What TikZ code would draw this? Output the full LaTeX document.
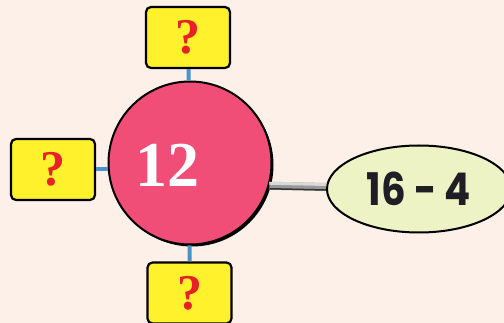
\documentclass[tikz,border=0pt]{standalone}
\usepackage{fontspec}
\usepackage{tikz}
\usetikzlibrary{shapes.geometric,shadows,calc}
\newfontfamily\serfont{Liberation Serif}
\newfontfamily\gothfont{Poppins}[FakeStretch=0.86]

\definecolor{paper}{RGB}{253,240,233}
\definecolor{rose}{RGB}{240,78,119}
\definecolor{lemon}{RGB}{255,241,43}
\definecolor{qred}{RGB}{232,32,40}
\definecolor{link}{RGB}{74,146,204}
\definecolor{cream}{RGB}{238,243,198}
\definecolor{ink}{RGB}{30,30,36}

\tikzset{
  qbox/.style={rectangle,rounded corners=5pt,draw=black,line width=2.2pt,fill=lemon,
    minimum width=84pt,minimum height=61pt,inner sep=0pt,
    font=\serfont\bfseries\fontsize{50}{50}\selectfont,text=qred},
  blue link/.style={line width=4pt,color=link}
}

\begin{document}
\begin{tikzpicture}[x=1pt,y=-1pt]

	% page

	\fill[paper] (0,0) rectangle (504,323);
	\useasboundingbox (0,0) rectangle (504,323);

	% centre and answer

	\node[circle,draw=black,line width=2pt,fill=rose,minimum size=163pt,inner sep=0pt,
	  drop shadow={shadow xshift=2pt,shadow yshift=-2pt,opacity=1,fill=black}] (c) at (190,163) {};
	\node[font=\serfont\bfseries\fontsize{64}{64}\selectfont,text=white] (n) at (167,165) {12};
	\node[ellipse,draw=black,line width=2pt,fill=cream,minimum width=184pt,minimum height=87pt,
	  inner sep=0pt,font=\gothfont\bfseries\fontsize{45}{45}\selectfont,text=ink] (e) at (419,189) {16 - 4};

	% question boxes

	\node[qbox] (t) at (188,37.5) {?};
	\node[qbox] (l) at (53,169.5) {?};
	\node[qbox] (b) at (189.5,293) {?};

	% links

	\draw[blue link] (t) -- (c);
	\draw[blue link] (l) -- (l -| c.west);
	\draw[blue link] (b) -- (c);
	\draw[line width=8pt,color=gray!80] (c.-16) -- ($(e.west)+(0,-2)$);
	\draw[line width=3pt,color=gray!30] ($(c.-16)+(0,-2.5)$) -- ($(e.west)+(0,-4.5)$);
	\draw[line width=1.5pt,color=gray!40!black] ($(c.-16)+(0,3)$) -- ($(e.west)+(0,1)$);

\end{tikzpicture}
\end{document}
